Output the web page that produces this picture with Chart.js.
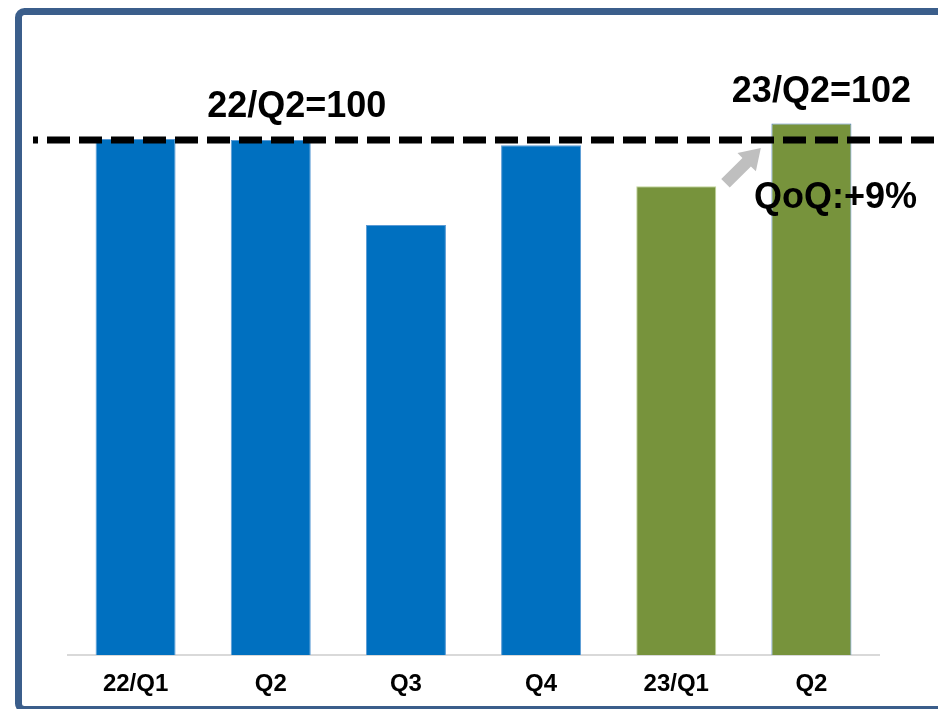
<!DOCTYPE html>
<html>
<head>
<meta charset="utf-8">
<style>
  html, body { margin: 0; padding: 0; background: #ffffff; }
  #wrap { position: relative; width: 938px; height: 709px; }
</style>
<script src="https://cdn.jsdelivr.net/npm/chart.js@4/dist/chart.umd.min.js"></script>
</head>
<body>
<div id="wrap"><canvas id="c" width="938" height="709"></canvas></div>
<script>
// ---- data ----
const categories = ['22/Q1', 'Q2', 'Q3', 'Q4', '23/Q1', 'Q2'];
const values = [100.2, 100, 83.5, 99.0, 91.0, 103.2];
const referenceValue = 100;
const referenceLabel = '22/Q2=100';
const latestLabel = '23/Q2=102';
const qoqLabel = 'QoQ:+9%';

// ---- styles ----
const blue = '#0070c0';
const green = '#77933c';
const fills = values.map((v, i) => i < 4 ? blue : green);
const borders = values.map((v, i) => i < 4 ? '#5b9bd5' : (i === 4 ? '#c3d69b' : '#4f81bd'));
const FONT = '"Liberation Sans", Arial, sans-serif';

const framePlugin = {
  id: 'frame',
  beforeDraw(chart) {
    const ctx = chart.ctx;
    ctx.save();
    ctx.fillStyle = '#ffffff';
    ctx.fillRect(0, 0, chart.width, chart.height);
    ctx.strokeStyle = '#3b5e8b';
    ctx.lineWidth = 7;
    ctx.beginPath();
    if (ctx.roundRect) ctx.roundRect(18.5, 11.5, 1000, 698, 6);
    else ctx.rect(18.5, 11.5, 1000, 698);
    ctx.stroke();
    ctx.restore();
  }
};

const annotPlugin = {
  id: 'annot',
  afterDatasetsDraw(chart) {
    const ctx = chart.ctx;
    const x = chart.scales.x, y = chart.scales.y;
    const yRef = y.getPixelForValue(referenceValue);
    ctx.save();
    // dashed reference line
    ctx.strokeStyle = '#000000';
    ctx.lineWidth = 7;
    ctx.setLineDash([23, 9]);
    ctx.lineDashOffset = 18;
    ctx.beginPath();
    ctx.moveTo(33, yRef);
    ctx.lineTo(938, yRef);
    ctx.stroke();
    ctx.setLineDash([]);

    // arrow between 23/Q1 and 23/Q2
    const x4 = x.getPixelForValue(4), x5 = x.getPixelForValue(5);
    const mid = (x4 + x5) / 2;
    const ux = Math.SQRT1_2, uy = -Math.SQRT1_2;  // direction
    const px = Math.SQRT1_2, py = Math.SQRT1_2;   // perpendicular
    const T = [mid + 17, 148];
    const B = [T[0] - 20 * ux, T[1] - 20 * uy];
    const tail = [T[0] - 50 * ux, T[1] - 50 * uy];
    const hw = 6, hh = 13;
    ctx.fillStyle = '#bfbfbf';
    ctx.beginPath();
    ctx.moveTo(tail[0] - hw * px, tail[1] - hw * py);
    ctx.lineTo(B[0] - hw * px, B[1] - hw * py);
    ctx.lineTo(B[0] - hh * px, B[1] - hh * py);
    ctx.lineTo(T[0], T[1]);
    ctx.lineTo(B[0] + hh * px, B[1] + hh * py);
    ctx.lineTo(B[0] + hw * px, B[1] + hw * py);
    ctx.lineTo(tail[0] + hw * px, tail[1] + hw * py);
    ctx.closePath();
    ctx.fill();

    // labels
    ctx.fillStyle = '#000000';
    ctx.font = 'bold 36px ' + FONT;
    ctx.textAlign = 'center';
    ctx.textBaseline = 'alphabetic';
    ctx.fillText(referenceLabel, x.getPixelForValue(1) + 26, yRef - 23);
    ctx.fillText(latestLabel, x5 + 10, 102);
    ctx.fillText(qoqLabel, x5 + 24, 208);
    ctx.restore();
  }
};

new Chart(document.getElementById('c'), {
  type: 'bar',
  data: {
    labels: categories,
    datasets: [{
      data: values,
      backgroundColor: fills,
      borderColor: borders,
      borderWidth: 1,
      barPercentage: 0.592,
      categoryPercentage: 1.0
    }]
  },
  options: {
    responsive: false,
    animation: false,
    layout: { padding: { left: 68, right: 59, top: 37, bottom: 0 } },
    plugins: { legend: { display: false }, tooltip: { enabled: false } },
    scales: {
      x: {
        grid: { display: false, drawTicks: false },
        border: { display: true, color: '#d9d9d9', width: 2 },
        ticks: { color: '#000000', font: { family: FONT, size: 24, weight: 'bold' }, padding: 15, maxRotation: 0 },
        afterFit(scale) { scale.height = 54; }
      },
      y: {
        display: false,
        min: 0,
        max: 120
      }
    }
  },
  plugins: [framePlugin, annotPlugin]
});
</script>
</body>
</html>
